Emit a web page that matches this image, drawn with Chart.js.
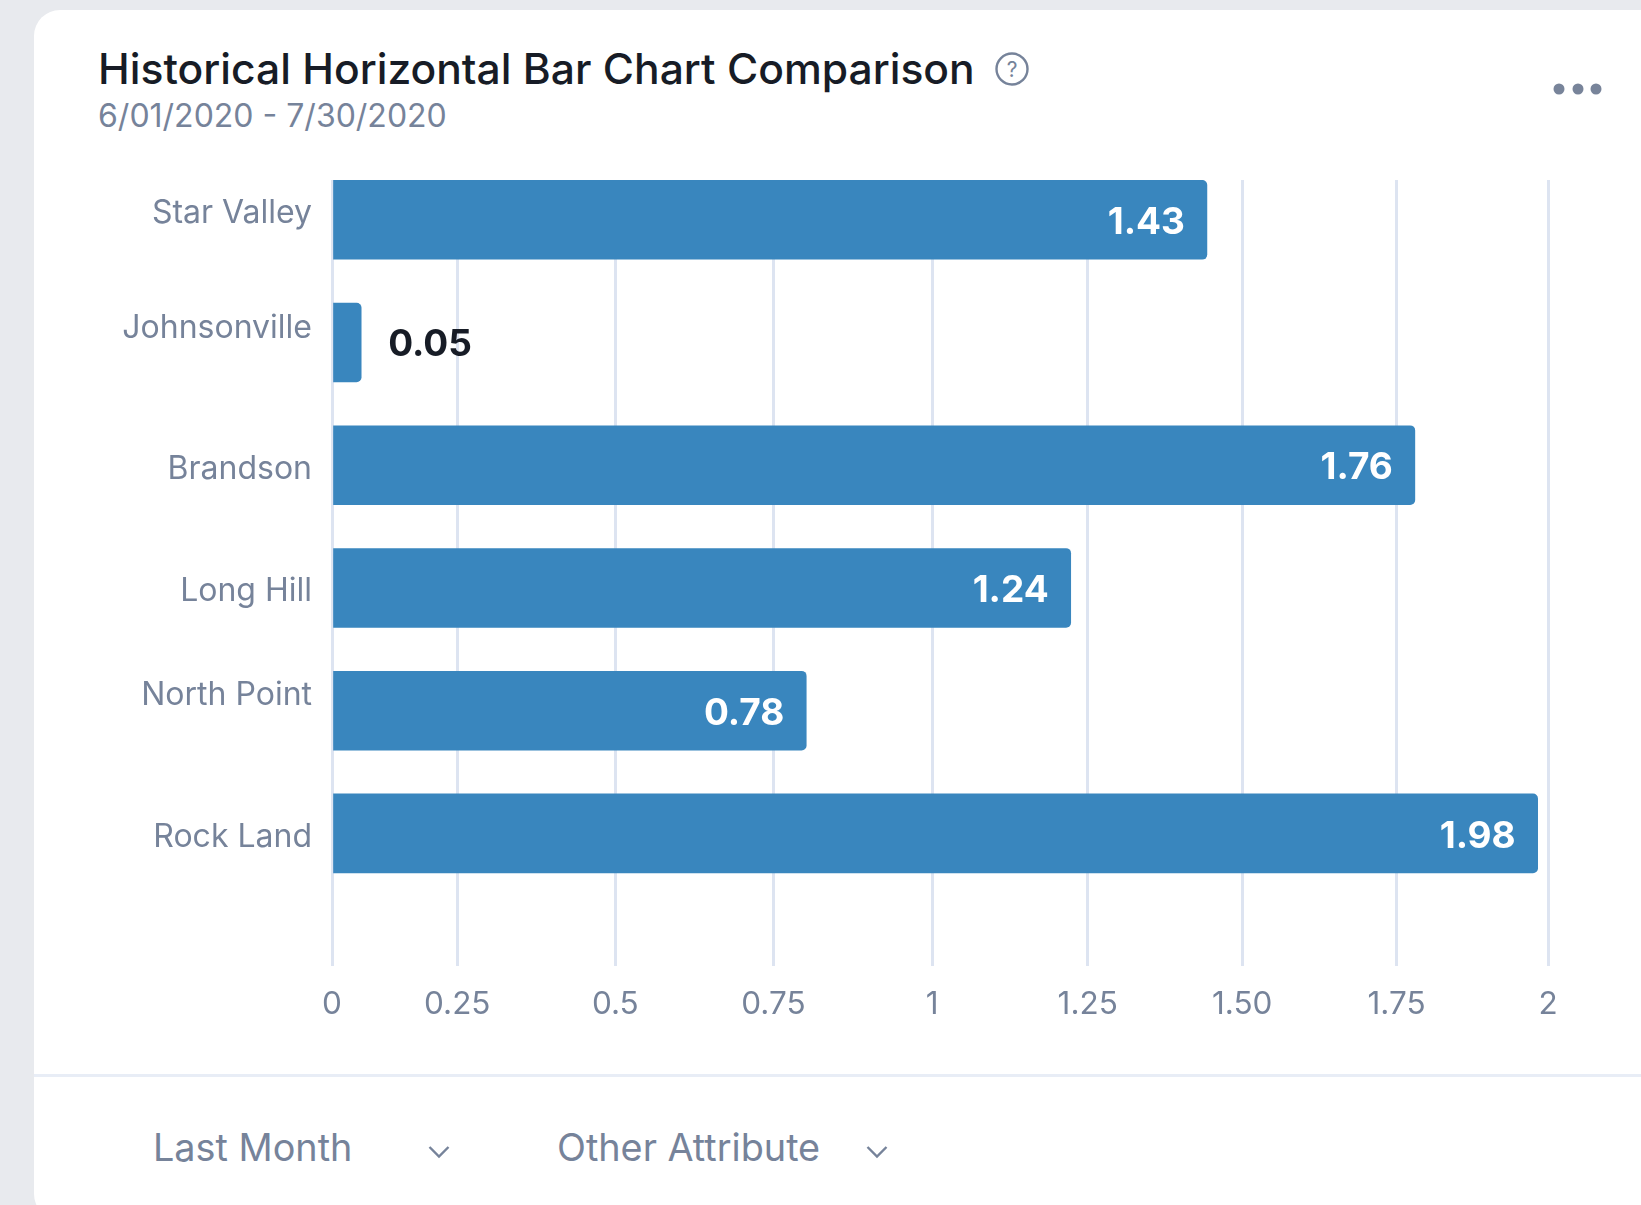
<!DOCTYPE html>
<html>
<head>
<meta charset="utf-8">
<title>Historical Horizontal Bar Chart Comparison</title>
<script src="https://cdn.jsdelivr.net/npm/chart.js@4"></script>
<style>
  html, body { margin: 0; padding: 0; width: 1641px; height: 1205px; overflow: hidden; background: #e8eaee; font-family: Inter, sans-serif; }
  .card { position: absolute; left: 34px; top: 10px; width: 1700px; height: 1210px; background: #fff; border-radius: 26px; }
  .divider { position: absolute; left: 34px; top: 1074px; width: 1607px; height: 3px; background: #e8edf6; }
  .txt { position: absolute; white-space: nowrap; }
  #title { left: 98px; top: 44px; font-size: 42.6px; line-height: 50px; font-weight: 500; color: #171c26; }
  #range { left: 98px; top: 96px; font-size: 32px; line-height: 40px; color: #76839a; }
  .filter { top: 1124px; font-size: 37.8px; line-height: 46px; color: #76839a; }
  svg { position: absolute; overflow: visible; }
  canvas { position: absolute; left: 0; top: 0; }
</style>
</head>
<body>
<div class="card"></div>
<div class="divider"></div>
<div class="txt" id="title">Historical Horizontal Bar Chart Comparison</div>
<div class="txt" id="range">6/01/2020 - 7/30/2020</div>
<svg style="left:995px;top:52px" width="34" height="34" viewBox="0 0 34 34">
  <circle cx="17" cy="17" r="15.5" fill="none" stroke="#76839a" stroke-width="2.4"/>
  <text x="17" y="24.5" text-anchor="middle" font-family="Inter" font-size="21" fill="#76839a">?</text>
</svg>
<svg style="left:1550px;top:80px" width="56" height="18" viewBox="0 0 56 18">
  <circle cx="9" cy="9" r="5.5" fill="#78849a"/>
  <circle cx="28" cy="9" r="5.5" fill="#78849a"/>
  <circle cx="46" cy="9" r="5.5" fill="#78849a"/>
</svg>
<div class="txt filter" style="left:153px">Last Month</div>
<svg style="left:428px;top:1145px" width="22" height="14" viewBox="0 0 22 14">
  <path d="M1.5 2 L11 11.5 L20.5 2" fill="none" stroke="#76839a" stroke-width="2.4"/>
</svg>
<div class="txt filter" style="left:557px">Other Attribute</div>
<svg style="left:866px;top:1145px" width="22" height="14" viewBox="0 0 22 14">
  <path d="M1.5 2 L11 11.5 L20.5 2" fill="none" stroke="#76839a" stroke-width="2.4"/>
</svg>
<canvas id="chart" width="1641" height="1205"></canvas>
<script>
const categories = ["Star Valley", "Johnsonville", "Brandson", "Long Hill", "North Point", "Rock Land"];
// bar lengths as measured against the axis, printed values are kept separately
const barValues = [1.439, 0.048, 1.781, 1.215, 0.78, 1.983];
const barLabels = ["1.43", "0.05", "1.76", "1.24", "0.78", "1.98"];
const barRows = [0, 1, 2, 3, 4, 5];
// the axis ticks are not evenly spaced in the picture
const xTickValues = [0, 0.206, 0.466, 0.726, 0.987, 1.243, 1.497, 1.751, 2];
const xTickLabels = ["0", "0.25", "0.5", "0.75", "1", "1.25", "1.50", "1.75", "2"];
// the category labels do not sit on the bar centres either
const yTickRows = [-0.05, 0.885, 2.03, 3.03, 3.875, 5.03];

const valueLabels = {
  id: "valueLabels",
  afterDatasetsDraw(chart) {
    const ctx = chart.ctx;
    ctx.save();
    ctx.font = "700 37px Inter";
    ctx.textBaseline = "middle";
    chart.getDatasetMeta(0).data.forEach(function (bar, i) {
      if (barValues[i] < 0.2) {
        ctx.fillStyle = "#171c26";
        ctx.textAlign = "left";
        ctx.fillText(barLabels[i], bar.x + 27, bar.y + 2);
      } else {
        ctx.fillStyle = "#ffffff";
        ctx.textAlign = "right";
        ctx.fillText(barLabels[i], bar.x - 22, bar.y + 3);
      }
    });
    ctx.restore();
  }
};

new Chart(document.getElementById("chart").getContext("2d"), {
  type: "bar",
  data: {
    datasets: [{
      data: barRows.map(function (row, i) { return { x: barValues[i], y: row }; }),
      backgroundColor: "#3986be",
      barThickness: 79,
      borderRadius: { topLeft: 0, bottomLeft: 0, topRight: 5, bottomRight: 5 },
      borderSkipped: false
    }]
  },
  plugins: [valueLabels],
  options: {
    indexAxis: "y",
    responsive: false,
    animation: false,
    layout: { padding: { top: 180, right: 93, left: 0, bottom: 0 } },
    plugins: { legend: { display: false }, tooltip: { enabled: false } },
    scales: {
      x: {
        type: "linear",
        position: "bottom",
        min: 0,
        max: 2,
        afterBuildTicks(axis) { axis.ticks = xTickValues.map(function (v) { return { value: v }; }); },
        afterFit(axis) { axis.height = 239; },
        grid: { color: "#dde4f1", lineWidth: 3, drawTicks: false },
        border: { display: false },
        ticks: {
          autoSkip: false,
          maxRotation: 0,
          padding: 20,
          color: "#76839a",
          font: { family: "Inter", size: 31.5 },
          callback(value, index) { return xTickLabels[index]; }
        }
      },
      y: {
        type: "linear",
        reverse: true,
        offset: false,
        min: -0.324,
        max: 6.08,
        afterBuildTicks(axis) { axis.ticks = yTickRows.map(function (v) { return { value: v }; }); },
        afterFit(axis) { axis.width = 332; },
        grid: { display: false, drawTicks: false },
        border: { display: false },
        ticks: {
          autoSkip: false,
          padding: 20,
          color: "#76839a",
          font: { family: "Inter", size: 32 },
          callback(value, index) { return categories[index]; }
        }
      }
    }
  }
});
</script>
</body>
</html>
